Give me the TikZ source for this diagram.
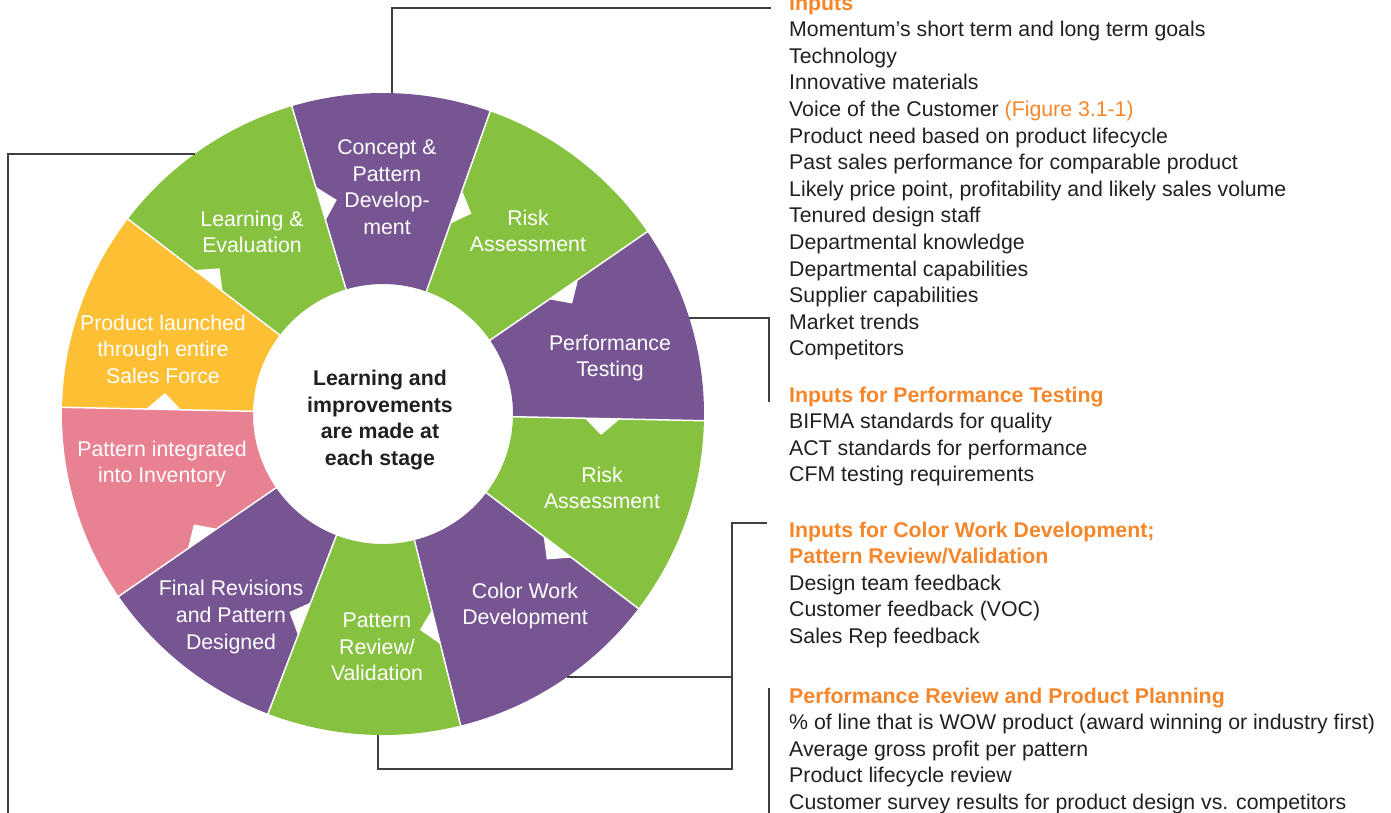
\documentclass[tikz,border=0pt]{standalone}
\usepackage{fontspec}
\setmainfont{Liberation Sans}
\usepackage{xcolor}
\usetikzlibrary{positioning,calc}
\definecolor{wpurple}{RGB}{119,85,146}
\definecolor{wgreen}{RGB}{134,194,64}
\definecolor{wyellow}{RGB}{253,191,51}
\definecolor{wpink}{RGB}{232,129,146}
\definecolor{horange}{RGB}{245,134,42}
\definecolor{txt}{RGB}{35,31,32}
\definecolor{lnc}{RGB}{64,64,64}
\newcommand{\hdg}[1]{{\color{horange}\bfseries #1}}
\newcommand{\figref}[1]{{\color{horange}#1}}

\begin{document}
\begin{tikzpicture}[x=1pt,y=1pt, every node/.style={font=\fontsize{21.3}{26.6}\selectfont,inner sep=0pt},
  lbl/.style={align=center,text=white},
  blk/.style={align=left,anchor=base west,text=txt},
  conn/.style={draw=lnc,line width=1.3pt}]
  \useasboundingbox (-383,-398) rectangle (1008,414);
  \foreach \a/\b/\c in {70.5/106.5/wpurple, 34.6/70.5/wgreen, -1.2/34.6/wpurple, -37.3/-1.2/wgreen, -76/-37.3/wpurple,
      -111/-76/wgreen, -145.4/-111/wpurple, -181.2/-145.4/wpink, 142.6/178.8/wyellow, 106.5/142.6/wgreen}
    \fill[\c] (\a:130) arc[start angle=\a,end angle=\b,radius=130] -- (\b:321) arc[start angle=\b,end angle=\a,radius=321] -- cycle;
  \foreach \a in {106.5,70.5,34.6,-1.2,-37.3,-76,-111,-145.4,178.8,142.6}{
    \draw[white,line width=1.5pt] (\a:126) -- (\a:325);
    \fill[white] (\a:202) -- (\a:237) -- ({\a-4.3}:219) -- cycle;
  }
  \node[lbl] (concept) at (4,227) {Concept \&\\Pattern\\Develop-\\ment};
  \node[lbl] (riskA) at (145,183) {Risk\\Assessment};
  \node[lbl] (perf) at (227,56) {Performance\\Testing};
  \node[lbl] (riskB) at (219,-74) {Risk\\Assessment};
  \node[lbl] (color) at (142,-192) {Color Work\\Development};
  \node[lbl] (review) at (-6,-233) {Pattern\\Review/\\Validation};
  \node[lbl] (final) at (-152,-203) {Final Revisions\\and Pattern\\Designed};
  \node[lbl] (inv) at (-221,-50) {Pattern integrated\\into Inventory};
  \node[lbl] (launch) at (-220,65) {Product launched\\through entire\\Sales Force};
  \node[lbl] (learn) at (-131,182) {Learning \&\\Evaluation};
  \node[align=center,text=txt,font=\fontsize{21.3}{26.6}\selectfont\bfseries] (hub) at (-3,-6) {Learning and\\improvements\\are made at\\each stage};
  \node[blk] (inA) at (406,58.2) {\hdg{Inputs}\\Momentum’s short term and long term goals\\Technology\\Innovative materials\\
    Voice of the Customer \figref{(Figure 3.1-1)}\\Product need based on product lifecycle\\Past sales performance for comparable product\\
    Likely price point, profitability and likely sales volume\\Tenured design staff\\Departmental knowledge\\
    Departmental capabilities\\Supplier capabilities\\Market trends\\Competitors};
  \node[blk] (inB) at (406,-67.8) {\hdg{Inputs for Performance Testing}\\BIFMA standards for quality\\ACT standards for performance\\CFM testing requirements};
  \node[blk] (inC) at (406,-229.4) {\hdg{Inputs for Color Work Development;}\\\hdg{Pattern Review/Validation}\\Design team feedback\\Customer feedback (VOC)\\Sales Rep feedback};
  \node[blk] (inD) at (406,-395.4) {\hdg{Performance Review and Product Planning}\\\% of line that is WOW product (award winning or industry first)\\
    Average gross profit per pattern\\Product lifecycle review\\Customer survey results for product design vs. competitors};
  \coordinate (cT) at (9,321); \coordinate (inAe) at (388,406);
  \coordinate (pE) at (306.3,96); \coordinate (inBt) at (386,12);
  \coordinate (cwE) at (184,-263); \coordinate (brT) at (349,-109); \coordinate (brB) at (349,-355);
  \coordinate (inCe) at (384,-109); \coordinate (prB) at (-5,-321);
  \coordinate (lE) at (-188.3,260); \coordinate (lB) at (-375,-430); \coordinate (inDt) at (386,-274);
  \draw[conn] (cT) |- (inAe); \draw[conn] (pE) -| (inBt);
  \draw[conn] (cwE) -- (cwE -| brT); \draw[conn] (prB) |- (brB) -- (brT) -- (inCe);
  \draw[conn] (lE) -| (lB) -| (inDt);
\end{tikzpicture}
\end{document}
